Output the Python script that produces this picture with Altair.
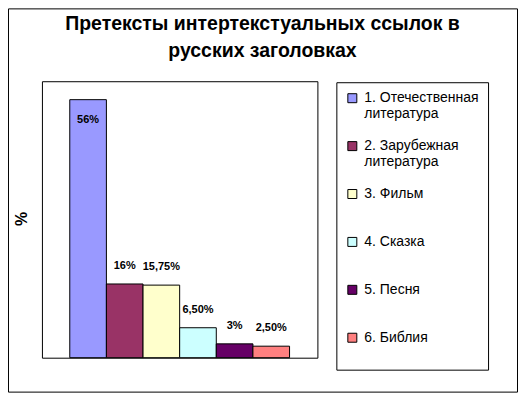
import altair as alt
import pandas as pd

categories = ["1. Отечественная литература", "2. Зарубежная литература", "3. Фильм",
              "4. Сказка", "5. Песня", "6. Библия"]
values = [56, 16, 15.75, 6.5, 3, 2.5]
labels = ["56%", "16%", "15,75%", "6,50%", "3%", "2,50%"]
colors = ["#9999FF", "#993366", "#FFFFCC", "#CCFFFF", "#660066", "#FF8080"]
title_lines = ["Претексты интертекстуальных ссылок в", "русских заголовках"]
y_title = "%"

FONT = "Liberation Sans"

df = pd.DataFrame({"cat": categories, "val": values, "lab": labels})
one = pd.DataFrame({"a": [0]})

x_enc = alt.X("cat:N", sort=categories,
              scale=alt.Scale(paddingInner=0, paddingOuter=0.76), axis=None)
y_enc = alt.Y("val:Q", scale=alt.Scale(domain=[0, 60]), axis=None)

label_expr = ("length(datum.label) > 12 ? "
              "[slice(datum.label, 0, lastindexof(datum.label, ' ')), "
              "slice(datum.label, lastindexof(datum.label, ' ') + 1)] : datum.label")

frame = alt.Chart(one).mark_rect(fill="white", fillOpacity=0, stroke="black", strokeWidth=1).encode(
    x=alt.value(-33.5), x2=alt.value(476.5), y=alt.value(-72.5), y2=alt.value(311.5)
)

legend_box = alt.Chart(one).mark_rect(fill="white", fillOpacity=0, stroke="black", strokeWidth=1).encode(
    x=alt.value(295.5), x2=alt.value(447.5), y=alt.value(1.5), y2=alt.value(289.5)
)

bars = alt.Chart(df).mark_bar(stroke="black", strokeWidth=1, opacity=1).encode(
    x=x_enc,
    y=y_enc,
    color=alt.Color("cat:N", sort=categories,
                    scale=alt.Scale(domain=categories, range=colors),
                    legend=alt.Legend(
                        orient="none", legendX=295, legendY=1, title=None,
                        padding=9,
                        symbolType="square", symbolSize=81, symbolStrokeColor="black",
                        symbolStrokeWidth=1, symbolOpacity=1,
                        labelFont=FONT, labelFontSize=14, labelColor="black",
                        labelLimit=220, labelOffset=5, rowPadding=18, gridAlign="all",
                        labelExpr=label_expr,
                    )),
)

text_style = dict(font=FONT, fontSize=11, fontWeight="bold", color="black", baseline="middle")

lab_in = alt.Chart(df).transform_filter(alt.datum.val > 50).mark_text(dy=20, **text_style).encode(
    x=x_enc, y=y_enc, text="lab:N")
lab_out = alt.Chart(df).transform_filter(alt.datum.val <= 50).mark_text(dy=-18, **text_style).encode(
    x=x_enc, y=y_enc, text="lab:N")

title = alt.Chart(one).mark_text(
    text=title_lines, font=FONT, fontSize=19.5, fontWeight="bold", color="black",
    align="center", baseline="middle", lineHeight=27
).encode(x=alt.value(221), y=alt.value(-57))

ytitle = alt.Chart(one).mark_text(
    text=y_title, font=FONT, fontSize=16, fontWeight="bold", color="black",
    align="center", baseline="middle", angle=270
).encode(x=alt.value(-20), y=alt.value(138))

chart = alt.layer(frame, legend_box, bars, lab_in, lab_out, title, ytitle).properties(
    width=276, height=277,
    padding={"left": 34, "top": 73, "right": 201, "bottom": 35},
    autosize=alt.AutoSizeParams(type="none"),
    background="white",
).configure_view(stroke="black", strokeWidth=1)

chart.save("out.html", embed_options={"renderer": "svg", "actions": False})
